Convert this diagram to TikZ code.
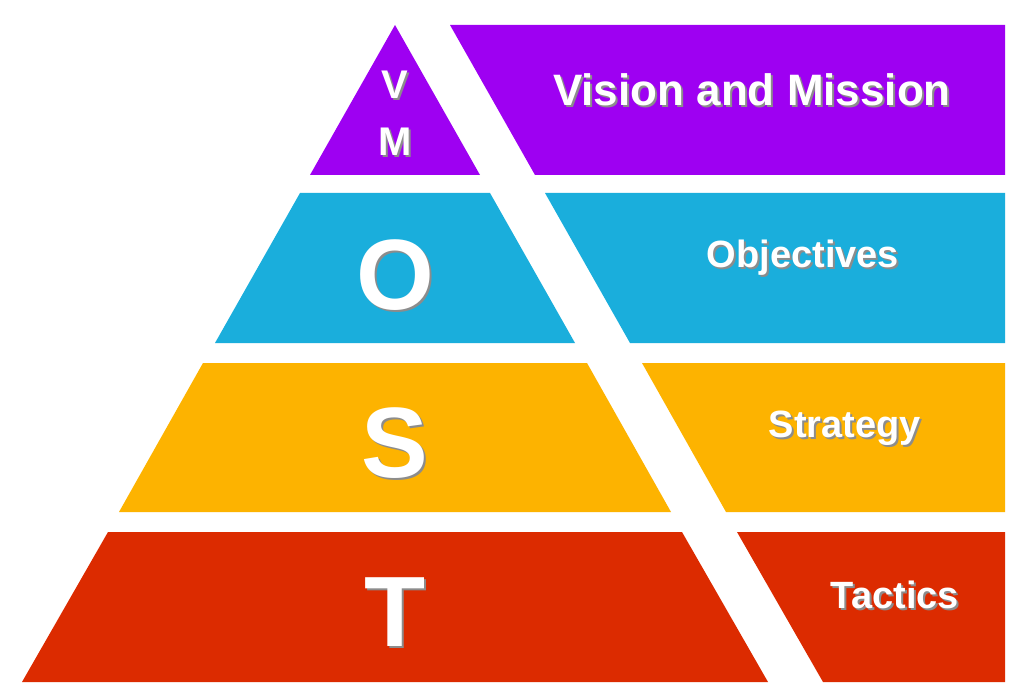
\documentclass[tikz,border=0pt]{standalone}
\usepackage{fontspec}
\setmainfont{Liberation Sans}
\definecolor{cV}{HTML}{9E00F2}
\definecolor{cO}{HTML}{1AAEDC}
\definecolor{cS}{HTML}{FDB300}
\definecolor{cT}{HTML}{DC2B00}
\tikzset{
 lbl/.style={text=white,font=\bfseries\fontsize{#1}{#1}\selectfont,inner sep=0pt},
 shd/.style={text=black!45,font=\bfseries\fontsize{#1}{#1}\selectfont,inner sep=0pt},
}
\newcommand{\stxt}[4]{\node[shd=#3] at ([xshift=2pt,yshift=-2pt]#1) {#4};\node[lbl=#3] (#2) at (#1) {#4};}
\begin{document}
\begin{tikzpicture}[x=1pt,y=-1pt]
\useasboundingbox (0,0) rectangle (1024,700);
\fill[white] (0,0) rectangle (1024,700);
\fill[cV] (395,25) -- (480,175) -- (310,175) -- cycle;
\fill[cV] (450,25) -- (1005,25) -- (1005,175) -- (535,175) -- cycle;
\fill[cO] (300,193) -- (490,193) -- (575,343) -- (215,343) -- cycle;
\fill[cO] (545,193) -- (1005,193) -- (1005,343) -- (630,343) -- cycle;
\fill[cS] (203,363) -- (587,363) -- (671,512) -- (119,512) -- cycle;
\fill[cS] (642,363) -- (1005,363) -- (1005,512) -- (726,512) -- cycle;
\fill[cT] (108,532) -- (682,532) -- (768,682) -- (22,682) -- cycle;
\fill[cT] (737,532) -- (1005,532) -- (1005,682) -- (823,682) -- cycle;
\stxt{752,90}{tv}{44}{Vision and Mission}
\stxt{803,258}{to}{38}{Objectives}
\stxt{845,428}{ts}{38}{Strategy}
\stxt{895,595}{tt}{38}{Tactics}
\stxt{395,85}{lv}{40}{V}
\stxt{395,142}{lm}{40}{M}
\stxt{395,275}{lo}{100}{O}
\stxt{395,443}{ls}{100}{S}
\stxt{395,612}{lt}{100}{T}
\end{tikzpicture}
\end{document}
